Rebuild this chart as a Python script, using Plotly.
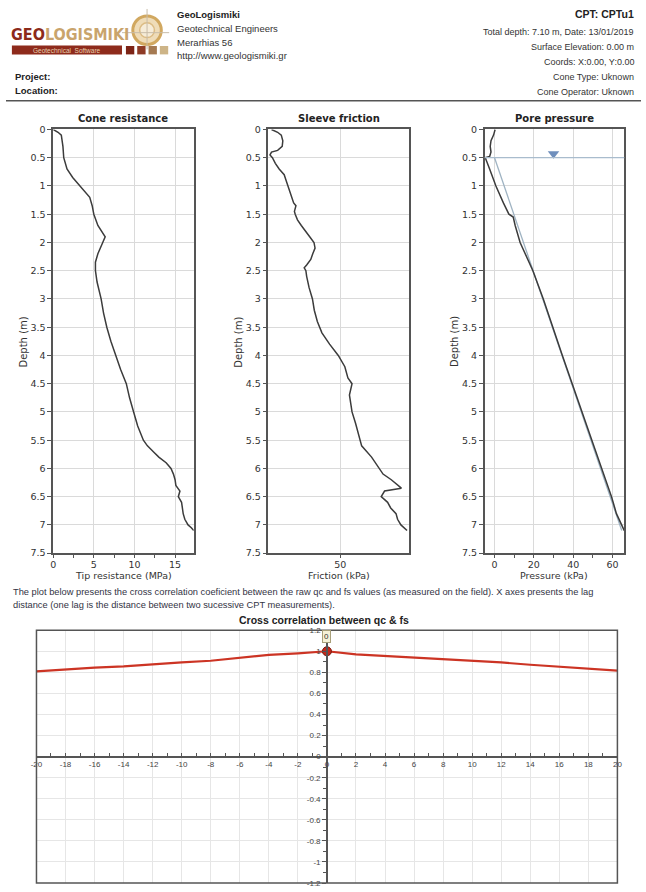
import plotly.graph_objects as go

W, H = 646, 892


def px(x):
    return x / W


def py(y):
    return 1 - y / H


# ---------------- data ----------------
depth_qc = [0, 0.05, 0.1, 0.2, 0.3, 0.5, 0.7, 0.85, 1.0, 1.1, 1.2, 1.35, 1.5, 1.7, 1.8, 1.9,
            2.0, 2.1, 2.2, 2.35, 2.5, 2.7, 3.0, 3.25, 3.5, 3.75, 4.0, 4.25, 4.5, 4.75, 5.0,
            5.25, 5.5, 5.6, 5.7, 5.8, 5.9, 6.0, 6.1, 6.2, 6.3, 6.4, 6.5, 6.6, 6.7, 6.8, 6.9,
            7.0, 7.05, 7.1]
qc_mpa = [0, 0.6, 1.0, 1.1, 1.2, 1.3, 1.7, 2.4, 3.3, 4.0, 4.5, 4.8, 5.0, 5.5, 5.9, 6.4,
          6.1, 5.8, 5.5, 5.2, 5.2, 5.4, 5.9, 6.2, 6.6, 7.1, 7.7, 8.3, 9.0, 9.4, 9.9,
          10.4, 11.1, 11.6, 12.3, 13.0, 13.9, 14.5, 14.8, 15.0, 15.1, 15.6, 15.4, 15.8, 15.9,
          16.0, 16.2, 16.6, 17.0, 17.3]

depth_fs = [0, 0.05, 0.1, 0.2, 0.3, 0.37, 0.4, 0.45, 0.5, 0.6, 0.7, 0.8, 0.9, 1.0, 1.1,
            1.2, 1.3, 1.35, 1.45, 1.5, 1.6, 1.7, 1.8, 1.9, 2.0, 2.1, 2.2, 2.3, 2.4, 2.45,
            2.5, 2.6, 2.8, 3.0, 3.2, 3.4, 3.6, 3.8, 4.0, 4.2, 4.4, 4.5, 4.7, 4.9, 5.0, 5.2,
            5.4, 5.6, 5.8, 6.0, 6.1, 6.2, 6.3, 6.35, 6.4, 6.5, 6.6, 6.7, 6.8, 6.9, 7.0, 7.1]
fs_kpa = [5, 9, 11.4, 12.4, 12, 9, 5, 4, 5.6, 7.5, 10, 13.3, 14.5, 15.7, 17,
          18.4, 19.5, 21, 20, 20.5, 22, 24.5, 27.5, 30, 32.8, 33.5, 32, 30.7, 28, 26.4,
          27.5, 28, 29.6, 31.8, 33, 35, 38, 43, 48.7, 53, 55, 57.7, 56, 57, 57.7, 60,
          62, 64, 70.5, 75.7, 78, 83.4, 88, 90, 79, 76.8, 81, 83, 86.5, 87.5, 89.7, 93.7]

depth_u2 = [0, 0.1, 0.2, 0.3, 0.4, 0.48, 0.5, 0.52, 0.7, 1.0, 1.3, 1.5, 1.55, 1.7, 2.0,
            2.5, 3.0, 3.5, 4.0, 4.5, 5.0, 5.5, 6.0, 6.5, 6.8, 7.0, 7.1]
u2_kpa = [0.3, -0.5, -1.8, -2.2, -1.8, -2.5, -4.8, -4.5, -2.5, 0.7, 4.5, 7.3, 9.5, 10.5, 13,
          19.5, 24.8, 29.5, 34.5, 39.5, 44.5, 49.5, 54.5, 59.5, 62, 64.5, 66]

depth_u0 = [0.5, 7.1]
u0_kpa = [0.0, 64.7]
gwt_depth = 0.5
gwt_marker_u = 30

lag = [-20, -18, -16, -14, -12, -10, -8, -6, -4, -2, 0, 2, 4, 6, 8, 10, 12, 14, 16, 18, 20]
xcorr = [0.81, 0.828, 0.844, 0.856, 0.878, 0.894, 0.91, 0.94, 0.966, 0.98, 1.0,
         0.97, 0.955, 0.94, 0.92, 0.91, 0.894, 0.872, 0.853, 0.837, 0.816]

depth_ticks = [0, 0.5, 1, 1.5, 2, 2.5, 3, 3.5, 4, 4.5, 5, 5.5, 6, 6.5, 7, 7.5]
depth_ticktext = ["0", "0.5", "1", "1.5", "2", "2.5", "3", "3.5", "4", "4.5", "5",
                  "5.5", "6", "6.5", "7", "7.5"]
qc_ticks = [0, 5, 10, 15]
qc_minor = [2.5, 7.5, 12.5]
fs_ticks = [50]
u_ticks = [0, 20, 40, 60]
u_minor = [10, 30, 50]
lag_ticks = [-20, -18, -16, -14, -12, -10, -8, -6, -4, -2, 0, 2, 4, 6, 8, 10, 12, 14, 16, 18, 20]
lag_ticktext = ["-20", "-18", "-16", "-14", "-12", "-10", "-8", "-6", "-4", "-2", "0",
                "2", "4", "6", "8", "10", "12", "14", "16", "18", "20"]
corr_ticks = [-1.2, -1.0, -0.8, -0.6, -0.4, -0.2, 0, 0.2, 0.4, 0.6, 0.8, 1.0, 1.2]
corr_ticktext = ["-1.2", "-1", "-0.8", "-0.6", "-0.4", "-0.2", "0", "0.2", "0.4", "0.6",
                 "0.8", "1", "1.2"]

# ---------------- figure ----------------
PF = "DejaVu Sans"
HF = "Liberation Sans"
LINE = "#3c3c3c"
AX = "#555555"
GRID = "#dadada"

fig = go.Figure()
fig.add_trace(go.Scatter(x=qc_mpa, y=depth_qc, mode="lines", line=dict(color=LINE, width=1.5),
                         xaxis="x", yaxis="y", showlegend=False))
fig.add_trace(go.Scatter(x=fs_kpa, y=depth_fs, mode="lines", line=dict(color=LINE, width=1.5),
                         xaxis="x2", yaxis="y2", showlegend=False))
fig.add_trace(go.Scatter(x=u0_kpa, y=depth_u0, mode="lines", line=dict(color="#9fb3c2", width=1.3),
                         xaxis="x3", yaxis="y3", showlegend=False))
fig.add_trace(go.Scatter(x=u2_kpa, y=depth_u2, mode="lines", line=dict(color=LINE, width=1.5),
                         xaxis="x3", yaxis="y3", showlegend=False))
fig.add_trace(go.Scatter(x=[gwt_marker_u], y=[gwt_depth - 0.07], mode="markers",
                         marker=dict(symbol="triangle-down", size=10, color="#6f8fbd",
                                     line=dict(width=0)),
                         xaxis="x3", yaxis="y3", showlegend=False))
fig.add_trace(go.Scatter(x=lag, y=xcorr, mode="lines", line=dict(color="#cc3424", width=2.2),
                         xaxis="x4", yaxis="y4", showlegend=False))
fig.add_trace(go.Scatter(x=[lag[10]], y=[xcorr[10]], mode="markers",
                         marker=dict(size=9, color="#c4281a", line=dict(color="#7a1a10", width=1)),
                         xaxis="x4", yaxis="y4", showlegend=False))

panel_y = [py(554), py(125)]
tickfont = dict(family=PF, size=9.5, color="#333333")


def yax(anchor):
    return dict(domain=panel_y, range=[7.5, 0], tickvals=depth_ticks, ticktext=depth_ticktext,
                ticks="outside", ticklen=4, tickcolor=AX, showline=True, mirror=True,
                linecolor=AX, linewidth=1.5, showgrid=True, gridcolor=GRID, gridwidth=1,
                zeroline=False, tickfont=tickfont, anchor=anchor)


def xax(dom, rng, tv, minor_vals, anchor):
    d = dict(domain=dom, range=rng, tickvals=tv, ticks="outside", ticklen=3, tickcolor=AX,
             showline=True, mirror=True, linecolor=AX, linewidth=1.5, showgrid=True,
             gridcolor=GRID, gridwidth=1, zeroline=False, tickfont=tickfont, anchor=anchor,
             ticklabelstandoff=-1)
    if minor_vals:
        d["minor"] = dict(tickvals=minor_vals, ticks="outside", ticklen=3, tickcolor=AX,
                          showgrid=False)
    return d


cross_x = [px(31), px(622)]
cross_y = [py(888), py(632)]
small = dict(family=HF, size=8, color="#444444")

fig.update_layout(
    width=W, height=H, margin=dict(l=0, r=0, t=0, b=0),
    paper_bgcolor="white", plot_bgcolor="white",
    xaxis=xax([px(48), px(191)], [0, 17.3], qc_ticks, qc_minor, "y"),
    yaxis=yax("x"),
    xaxis2=xax([px(267), px(410)], [3, 95], fs_ticks, None, "y2"),
    yaxis2=yax("x2"),
    xaxis3=xax([px(487), px(629)], [-5, 66], u_ticks, u_minor, "y3"),
    yaxis3=yax("x3"),
    xaxis4=dict(domain=cross_x, range=[-20, 20], tickvals=lag_ticks, ticktext=lag_ticktext,
                anchor="free", position=(cross_y[0] + cross_y[1]) / 2, ticks="inside",
                ticklen=3, tickcolor=AX, showline=True, linecolor=AX, linewidth=1.5,
                showgrid=True, gridcolor="#e6e6e6", zeroline=False, tickfont=small,
                minor=dict(dtick=1, ticks="inside", ticklen=3, tickcolor=AX, showgrid=False)),
    yaxis4=dict(domain=cross_y, range=[-1.2, 1.2], tickvals=corr_ticks, ticktext=corr_ticktext,
                anchor="free", position=(cross_x[0] + cross_x[1]) / 2, ticks="outside",
                ticklen=4, tickcolor=AX, showline=True, linecolor=AX, linewidth=1.5,
                showgrid=True, gridcolor="#e6e6e6", zeroline=False, tickfont=small,
                minor=dict(dtick=0.1, ticks="outside", ticklen=3, tickcolor=AX, showgrid=False)),
)

shapes = []
annots = []


def txt(x, y, s, size=9.5, family=HF, color="#333333", anchor="left", bold=False, **kw):
    if bold:
        s = "<b>" + s + "</b>"
    annots.append(dict(x=px(x), y=py(y), xref="paper", yref="paper", text=s, showarrow=False,
                       xanchor=anchor, yanchor="middle",
                       font=dict(family=family, size=size, color=color), **kw))


# ---- header logo ----
annots.append(dict(x=px(3), y=py(28.5), xref="paper", yref="paper", showarrow=False,
                   xanchor="left", yanchor="middle",
                   text="<b><span style='color:#8c2a1a'>GEO</span>"
                        "<span style='color:#c9a46c'>LOGISMIKI</span></b>",
                   font=dict(family="Liberation Sans Narrow, DejaVu Sans Condensed, Arial Narrow",
                             size=16)))
shapes.append(dict(type="rect", xref="paper", yref="paper", x0=px(6), x1=px(118), y0=py(49),
                   y1=py(40), fillcolor="#8e2b1c", line=dict(width=0)))
txt(62, 44.7, "Geotechnical  Software", size=6.5, color="#ead2b0", anchor="center")
for x0, col in [(122, "#7d2416"), (133.5, "#8e3b26"), (145, "#a57a52"), (156.5, "#cdb487")]:
    shapes.append(dict(type="rect", xref="paper", yref="paper", x0=px(x0), x1=px(x0 + 8.5),
                       y0=py(49), y1=py(40.5), fillcolor=col, line=dict(width=0)))
shapes.append(dict(type="circle", xref="paper", yref="paper", x0=px(129), x1=px(158),
                   y0=py(39), y1=py(10), fillcolor="#efdcb8", line=dict(color="#d1a860", width=3)))
shapes.append(dict(type="circle", xref="paper", yref="paper", x0=px(136), x1=px(151),
                   y0=py(32), y1=py(17), fillcolor="#f6ecd8", line=dict(color="#dcbc85", width=1.5)))
shapes.append(dict(type="line", xref="paper", yref="paper", x0=px(118), x1=px(166),
                   y0=py(27), y1=py(27), line=dict(color="#c8bca8", width=1)))
shapes.append(dict(type="line", xref="paper", yref="paper", x0=px(143.5), x1=px(143.5),
                   y0=py(3), y1=py(44), line=dict(color="#c8bca8", width=1)))

txt(172, 9, "GeoLogismiki", size=9.5, bold=True, color="#222222")
txt(172, 23, "Geotechnical Engineers", size=9.5)
txt(172, 37, "Merarhias 56", size=9.5)
txt(172, 50, "http://www.geologismiki.gr", size=9.5)
txt(7, 71, "Project:", size=9.5, bold=True, color="#222222")
txt(7, 86, "Location:", size=9.5, bold=True, color="#222222")

txt(641, 8.5, "CPT: CPTu1", size=10.5, bold=True, color="#222222", anchor="right")
txt(641, 26.7, "Total depth: 7.10 m, Date: 13/01/2019", size=9, anchor="right")
txt(641, 41.7, "Surface Elevation: 0.00 m", size=9, anchor="right")
txt(641, 56.7, "Coords: X:0.00, Y:0.00", size=9, anchor="right")
txt(641, 71.7, "Cone Type: Uknown", size=9, anchor="right")
txt(641, 86.7, "Cone Operator: Uknown", size=9, anchor="right")
shapes.append(dict(type="line", xref="paper", yref="paper", x0=0, x1=1, y0=py(96), y1=py(96),
                   line=dict(color="#555555", width=1.5)))

# ---- panel titles and axis titles ----
for cx, t, xt, ytx in [(119.5, "Cone resistance", "Tip resistance (MPa)", 18),
                       (338.5, "Sleeve friction", "Friction (kPa)", 237),
                       (558, "Pore pressure", "Pressure (kPa)", 457)]:
    txt(cx, 114, t, size=10, family=PF, bold=True, color="#222222", anchor="center")
    txt(cx, 577, xt, size=9.5, family=PF, color="#333333", anchor="center")
    annots.append(dict(x=px(ytx), y=py(340), xref="paper", yref="paper", text="Depth (m)",
                       showarrow=False, textangle=-90, xanchor="center", yanchor="middle",
                       font=dict(family=PF, size=10, color="#333333")))

# ground water line
shapes.append(dict(type="line", xref="x3 domain", yref="y3", x0=0, x1=1, y0=gwt_depth,
                   y1=gwt_depth, line=dict(color="#a9bccd", width=1.3)))

# ---- paragraph ----
txt(5, 593, "The plot below presents the cross correlation coeficient between the raw qc and fs "
            "values (as measured on the field). X axes presents the lag", size=9.3,
    color="#333344")
txt(5, 606, "distance (one lag is the distance between two sucessive CPT measurements).",
    size=9.3, color="#333344")

# ---- cross correlation ----
txt(323, 622, "Cross correlation between qc &amp; fs", size=10.5, bold=True, color="#222222",
    anchor="center")
shapes.append(dict(type="rect", xref="paper", yref="paper", x0=cross_x[0], x1=cross_x[1],
                   y0=cross_y[0], y1=cross_y[1], line=dict(color="#555555", width=1.5),
                   layer="above"))
annots.append(dict(x=lag[10], y=1.14, xref="x4", yref="y4", text="0", showarrow=False,
                   bgcolor="#f6f1d6", bordercolor="#a8a07a", borderwidth=1, borderpad=1,
                   font=dict(family=HF, size=8, color="#333333")))

fig.update_layout(shapes=shapes, annotations=annots)
fig.write_html("out.html")
